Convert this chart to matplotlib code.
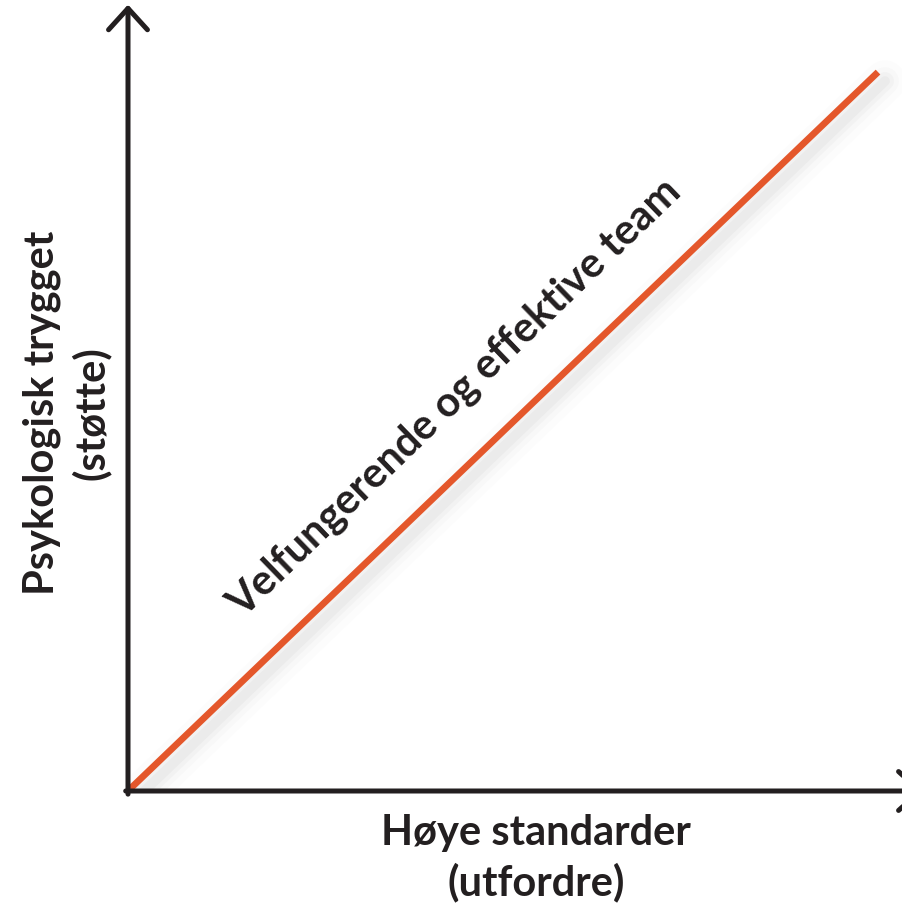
import matplotlib.pyplot as plt
from matplotlib.transforms import ScaledTranslation

# data: the diagonal from origin to upper right (axes units 0..1)
line_x = [0.003, 0.969]
line_y = [0.003, 0.917]

x_label = "Høye standarder\n(utfordre)"
y_label = "Psykologisk trygget\n(støtte)"
line_text = "Velfungerende og effektive team"

plt.rcParams['font.family'] = ['Lato', 'DejaVu Sans']

fig = plt.figure(figsize=(9.02, 9.04), dpi=100)
# plot area: origin at pixel (128, 792), top at y=8, right edge of figure
ax = fig.add_axes([128 / 902, 112 / 904, 774 / 902, 784 / 904])
ax.set_xlim(0, 1)
ax.set_ylim(0, 1)
ax.axis('off')

axis_col = '#231f20'
line_col = '#e4572b'

# soft shadow under the line
shift = ax.transData + ScaledTranslation(7 / 100, -9 / 100, fig.dpi_scale_trans)
for w, a in [(30, 0.02), (20, 0.03), (13, 0.045), (7, 0.06)]:
    ax.plot(line_x, line_y, color='#808080', lw=w, alpha=a,
            solid_capstyle='round', zorder=1, transform=shift)

ax.plot(line_x, line_y, color=line_col, lw=4.8, solid_capstyle='butt', zorder=3)

# axes with open arrowheads
arrow = dict(arrowstyle='->,head_length=0.55,head_width=0.5', color=axis_col,
             lw=3.6, mutation_scale=28, shrinkA=0, shrinkB=0)
ax.annotate('', xy=(0, 1.003), xytext=(0, -0.004), xycoords='axes fraction',
            arrowprops=arrow, annotation_clip=False, zorder=4)
ax.annotate('', xy=(1.028, 0), xytext=(-0.003, 0), xycoords='axes fraction',
            arrowprops=arrow, annotation_clip=False, zorder=4)

# labels
fig.text(536 / 902, 1 - 858 / 904, x_label, ha='center', va='center',
         fontsize=30, fontweight='bold', color=axis_col, linespacing=1.3)
fig.text(67 / 902, 1 - 413 / 904, y_label, ha='center', va='center',
         rotation=90, fontsize=30, fontweight='bold', color=axis_col, linespacing=1.3)
fig.text(455 / 902, 1 - 398 / 904, line_text, ha='center', va='center',
         rotation=44, rotation_mode='anchor', fontsize=30, fontweight='bold',
         color=axis_col)

fig.savefig('out.png', dpi=100)
